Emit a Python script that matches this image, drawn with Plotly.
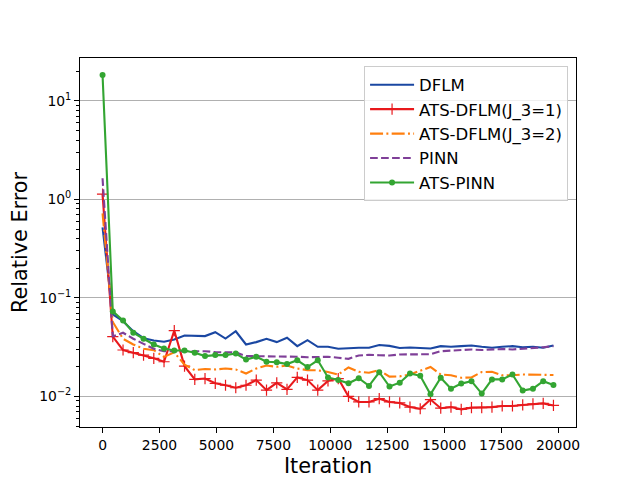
import plotly.graph_objects as go

iterations = list(range(0, 20000, 450))

dflm = [0.52, 0.068, 0.058, 0.046, 0.039, 0.037, 0.0359, 0.0378, 0.0415, 0.041,
        0.041, 0.0449, 0.0387, 0.0459, 0.0337, 0.0356, 0.0385, 0.0356, 0.0394, 0.0324,
        0.0373, 0.0319, 0.0319, 0.0305, 0.031, 0.0312, 0.0312, 0.0333, 0.0326, 0.031,
        0.0314, 0.0312, 0.0307, 0.0324, 0.0319, 0.0324, 0.0329, 0.0319, 0.0312, 0.0319,
        0.0324, 0.0316, 0.0319, 0.0312, 0.0329]

ats_dflm_j1 = [1.13, 0.0404, 0.0296, 0.0278, 0.0263, 0.0244, 0.0225, 0.0465, 0.0203, 0.0149,
               0.0152, 0.0136, 0.0130, 0.01225, 0.0130, 0.01466, 0.01159, 0.01374, 0.01178, 0.0156,
               0.01466, 0.01159, 0.0144, 0.0152, 0.0100, 0.0088, 0.0088, 0.0095, 0.0088, 0.0086,
               0.0078, 0.0075, 0.0093, 0.0076, 0.0078, 0.0074, 0.0077, 0.0077, 0.0078, 0.0080,
               0.0080, 0.0082, 0.0084, 0.0085, 0.0081]

ats_dflm_j2 = [0.72, 0.057, 0.0385, 0.0337, 0.0305, 0.0295, 0.0252, 0.028, 0.021, 0.0185,
               0.019, 0.0188, 0.0192, 0.0188, 0.0171, 0.0192, 0.0206, 0.0200, 0.0206, 0.0192,
               0.0185, 0.0184, 0.0177, 0.0167, 0.0197, 0.0178, 0.0174, 0.0185, 0.0159, 0.016,
               0.0167, 0.0181, 0.0199, 0.0167, 0.0164, 0.0155, 0.0156, 0.0177, 0.0178, 0.0164,
               0.0164, 0.0167, 0.0167, 0.0167, 0.0165]

pinn = [1.64, 0.0408, 0.0443, 0.0385, 0.0342, 0.0305, 0.0288, 0.0288, 0.0293, 0.0288,
        0.0288, 0.0282, 0.028, 0.028, 0.0257, 0.0257, 0.0257, 0.0253, 0.0253, 0.0253,
        0.025, 0.0253, 0.0253, 0.0247, 0.0241, 0.026, 0.0265, 0.0262, 0.026, 0.0267,
        0.0268, 0.027, 0.0268, 0.0288, 0.0293, 0.0296, 0.030, 0.0296, 0.030, 0.0303,
        0.030, 0.0305, 0.0307, 0.0316, 0.0324]

ats_pinn = [18.3, 0.073, 0.0589, 0.0443, 0.0385, 0.0337, 0.0307, 0.0293, 0.0293, 0.0278,
            0.0257, 0.0263, 0.0263, 0.0273, 0.0237, 0.0253, 0.0225, 0.0223, 0.0213, 0.0233,
            0.0199, 0.0233, 0.0156, 0.0147, 0.0136, 0.0153, 0.0128, 0.0176, 0.0126, 0.0138,
            0.0171, 0.0162, 0.0105, 0.0155, 0.0120, 0.0135, 0.0143, 0.0107, 0.0149, 0.0149,
            0.0167, 0.0115, 0.0120, 0.0143, 0.0131]

series_names = ["DFLM", "ATS-DFLM(J_3=1)", "ATS-DFLM(J_3=2)", "PINN", "ATS-PINN"]

x_ticks = [0, 2500, 5000, 7500, 10000, 12500, 15000, 17500, 20000]
y_ticks = [0.01, 0.1, 1, 10]
y_tick_text = ["10<sup>\u22122</sup>", "10<sup>\u22121</sup>", "10<sup>0</sup>", "10<sup>1</sup>"]
y_minor = [m * 10.0 ** e for e in range(-3, 2) for m in range(2, 10)]

font = "DejaVu Sans"
lw = 2.1

fig = go.Figure()
fig.add_trace(go.Scatter(x=iterations, y=dflm, name=series_names[0], mode="lines",
                         line=dict(color="#1a47a2", width=lw)))
fig.add_trace(go.Scatter(x=iterations, y=ats_dflm_j1, name=series_names[1], mode="lines+markers",
                         line=dict(color="#e8191c", width=lw),
                         marker=dict(symbol="cross-thin", size=8,
                                     line=dict(color="#e8191c", width=1.2))))
fig.add_trace(go.Scatter(x=iterations, y=ats_dflm_j2, name=series_names[2], mode="lines",
                         line=dict(color="#ff7f0e", width=lw, dash="13px,3.3px,2px,3.3px")))
fig.add_trace(go.Scatter(x=iterations, y=pinn, name=series_names[3], mode="lines",
                         line=dict(color="#7f3f98", width=lw, dash="7.7px,3.3px")))
fig.add_trace(go.Scatter(x=iterations, y=ats_pinn, name=series_names[4], mode="lines+markers",
                         line=dict(color="#33a532", width=lw),
                         marker=dict(symbol="circle", size=6, color="#33a532")))

# the page body adds an 8px offset; shrink the figure so the plot area lands where the reference has it
fig.update_layout(
    width=632, height=472,
    paper_bgcolor="white", plot_bgcolor="white",
    margin=dict(l=72, r=64, t=49.6, b=52.8, autoexpand=False),
    font=dict(family=font, size=13.9, color="black"),
    showlegend=True,
    legend=dict(x=0.984, y=0.977, xanchor="right", yanchor="top",
                bgcolor="rgba(255,255,255,0.8)", bordercolor="#cccccc", borderwidth=1,
                font=dict(family=font, size=16.5, color="black"),
                tracegroupgap=0, itemwidth=44),
    xaxis=dict(
        range=[-990, 20790], tickvals=x_ticks, tickformat="d",
        ticks="outside", ticklen=4.9, tickwidth=1.1, tickcolor="black",
        showline=True, linecolor="black", linewidth=1.1, mirror=True,
        showgrid=False, zeroline=False, automargin=False,
        title=dict(text="Iteration", font=dict(family=font, size=20.8), standoff=6),
    ),
    yaxis=dict(
        type="log", range=[-2.31, 1.435],
        tickvals=y_ticks, ticktext=y_tick_text,
        ticks="outside", ticklen=4.9, tickwidth=1.1, tickcolor="black",
        showline=True, linecolor="black", linewidth=1.1, mirror=True,
        showgrid=True, gridcolor="#b0b0b0", gridwidth=1.1, zeroline=False,
        automargin=False,
        minor=dict(tickvals=y_minor, ticks="outside", ticklen=2.8, tickwidth=0.8,
                   tickcolor="black", showgrid=False),
        title=dict(text="Relative Error", font=dict(family=font, size=20.8), standoff=8),
    ),
)

fig.write_html("out.html")
